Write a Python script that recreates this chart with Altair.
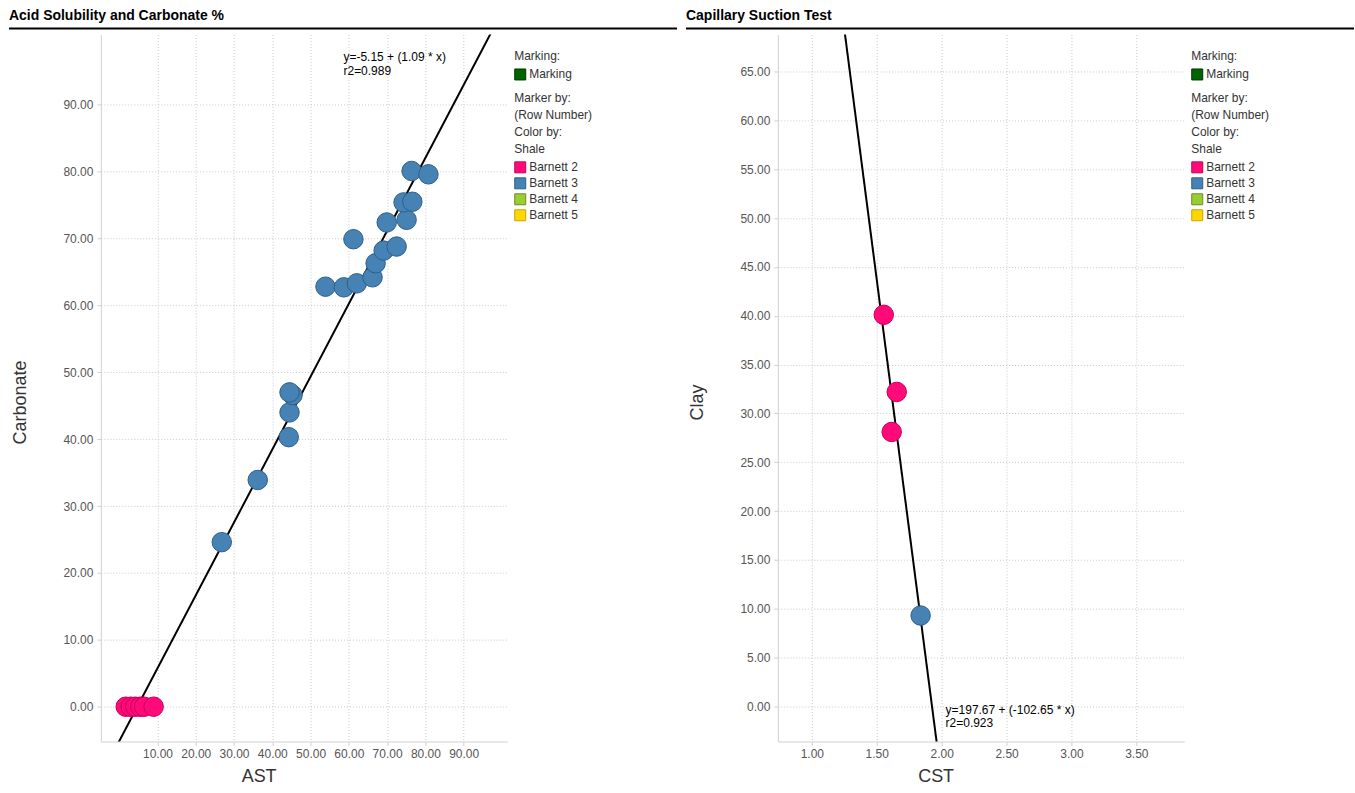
import altair as alt
import pandas as pd

FONT = "Liberation Sans"

# ---------------- data ----------------
shales = ["Barnett 2", "Barnett 3", "Barnett 4", "Barnett 5"]
shale_fill = ["#FF0A78", "#4682B4", "#9ACD32", "#FFD700"]
shale_stroke = ["#C4005A", "#2E5E8A", "#6B8E23", "#C9A400"]

# Left panel: Acid Solubility (AST) vs Carbonate
ast_b2 = [1.7, 3.0, 4.2, 5.5, 6.5, 9.0]
carb_b2 = [0.0, 0.0, 0.0, 0.0, 0.0, 0.0]
ast_b3 = [26.8, 36.2, 44.3, 44.5, 45.3, 44.5, 53.9, 58.7, 62.1, 66.2, 67.0,
          69.1, 72.5, 61.2, 69.9, 75.1, 74.3, 76.6, 76.4, 80.8]
carb_b3 = [24.6, 33.9, 40.3, 44.0, 46.6, 47.0, 62.8, 62.7, 63.3, 64.2, 66.3,
           68.2, 68.8, 69.9, 72.4, 72.8, 75.4, 75.5, 80.1, 79.6]
left_fit = (-5.15, 1.09)
left_eq = "y=-5.15 + (1.09 * x)\nr2=0.989"
left_xdomain = [-4.8, 101.4]
left_ydomain = [-5.2, 100.5]
left_xticks = [10, 20, 30, 40, 50, 60, 70, 80, 90]
left_yticks = [0, 10, 20, 30, 40, 50, 60, 70, 80, 90]

# Right panel: Capillary Suction Test (CST) vs Clay
cst_b2 = [1.554, 1.654, 1.615]
clay_b2 = [40.1, 32.2, 28.1]
cst_b3 = [1.838]
clay_b3 = [9.3]
right_fit = (197.67, -102.65)
right_eq = "y=197.67 + (-102.65 * x)\nr2=0.923"
right_xdomain = [0.738, 3.869]
right_ydomain = [-3.6, 68.8]
right_xticks = [1.0, 1.5, 2.0, 2.5, 3.0, 3.5]
right_yticks = [0, 5, 10, 15, 20, 25, 30, 35, 40, 45, 50, 55, 60, 65]

W, H = 407, 708


def axis(values, title, is_y):
    extra = dict(titleY=368) if is_y else dict(titleX=158)
    return alt.Axis(
        values=values, format=".2f", title=title, grid=True,
        gridDash=[1, 2], gridColor="#c8c8c8", gridWidth=1,
        domainColor="#d0d0d0", tickColor="#d0d0d0", tickSize=4,
        labelFont=FONT, labelFontSize=12, labelColor="#555555",
        labelPadding=4 if is_y else 3, labelOverlap=False,
        titleFont=FONT, titleFontSize=18, titleFontWeight="normal",
        titleColor="#333333", titlePadding=33 if is_y else 8,
        titleAlign="center", **extra,
    )


def legend_common():
    return dict(
        orient="none", legendX=414, padding=0, symbolType="square",
        symbolSize=121, symbolStrokeWidth=1,
        labelFont=FONT, labelFontSize=12, labelColor="#333333", labelOffset=3,
        titleFont=FONT, titleFontSize=12, titleFontWeight="normal",
        titleColor="#333333", rowPadding=0,
    )


def panel(title, xname, yname, xs_b2, ys_b2, xs_b3, ys_b3, fit, eq,
          xdomain, ydomain, xticks, yticks, eq_x, eq_y):
    pts = pd.DataFrame({
        xname: xs_b2 + xs_b3,
        yname: ys_b2 + ys_b3,
        "Shale": ["Barnett 2"] * len(xs_b2) + ["Barnett 3"] * len(xs_b3),
    })
    a, b = fit
    line = pd.DataFrame({xname: xdomain, yname: [a + b * v for v in xdomain]})
    one = pd.DataFrame({"Marking": ["Marking"]})

    xs = alt.Scale(domain=xdomain, nice=False, zero=False)
    ys = alt.Scale(domain=ydomain, nice=False, zero=False)
    xq = f"{xname}:Q"
    yq = f"{yname}:Q"

    points = alt.Chart(pts).mark_circle(size=380, opacity=1, strokeWidth=1).encode(
        x=alt.X(xq, scale=xs, axis=axis(xticks, xname, False)),
        y=alt.Y(yq, scale=ys, axis=axis(yticks, yname, True)),
        color=alt.Color("Shale:N", scale=alt.Scale(domain=shales, range=shale_fill),
                        legend=alt.Legend(
                            title=["Marker by:", "(Row Number)", "Color by:", "Shale"],
                            legendY=59, titleLineHeight=17, titlePadding=5,
                            symbolStrokeColor="#555555", **legend_common())),
        stroke=alt.Stroke("Shale:N", scale=alt.Scale(domain=shales, range=shale_stroke),
                          legend=None),
    )

    fitline = alt.Chart(line).mark_line(color="black", strokeWidth=2, clip=True).encode(
        x=alt.X(xq, scale=xs), y=alt.Y(yq, scale=ys)
    )

    marking = alt.Chart(one).transform_filter("false").mark_square(
        size=121, opacity=1
    ).encode(
        fill=alt.Fill("Marking:N", scale=alt.Scale(domain=["Marking"], range=["#006400"]),
                      legend=alt.Legend(title="Marking:", legendY=17, titlePadding=5,
                                        symbolStrokeColor="#003300",
                                        symbolOpacity=1, **legend_common())),
    )

    eqtext = alt.Chart(one).mark_text(
        align="left", baseline="top", lineBreak="\n", lineHeight=14,
        font=FONT, fontSize=12, color="black"
    ).encode(x=alt.value(eq_x), y=alt.value(eq_y), text=alt.value(eq))

    bar = alt.Chart(one).mark_rule(color="black", strokeWidth=2).encode(
        x=alt.value(-92), x2=alt.value(577), y=alt.value(-6)
    )

    return alt.layer(bar, fitline, points, marking, eqtext).properties(
        width=W, height=H,
        title=alt.TitleParams(title, anchor="start", frame="bounds", font=FONT,
                              fontSize=14, fontWeight="bold", color="black",
                              offset=5, dx=1),
    ).resolve_scale(color="independent", fill="independent", stroke="independent")


left = panel("Acid Solubility and Carbonate %", "AST", "Carbonate",
             ast_b2, carb_b2, ast_b3, carb_b3, left_fit, left_eq,
             left_xdomain, left_ydomain, left_xticks, left_yticks, 243, 18)
right = panel("Capillary Suction Test", "CST", "Clay",
              cst_b2, clay_b2, cst_b3, clay_b3, right_fit, right_eq,
              right_xdomain, right_ydomain, right_xticks, right_yticks, 168, 671)

chart = alt.hconcat(left, right, spacing=7).resolve_scale(
    color="independent", fill="independent", stroke="independent"
).resolve_legend(color="independent", fill="independent").properties(
    padding={"left": 8, "top": 8, "right": 0, "bottom": 0}
).configure_view(stroke=None)

chart.save("out.html", embed_options={"renderer": "svg", "actions": False})
